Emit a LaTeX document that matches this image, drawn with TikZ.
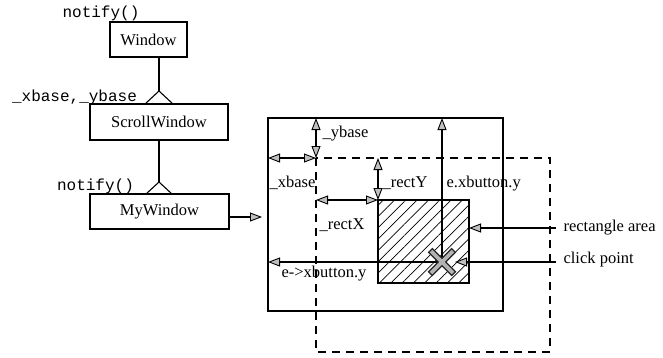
\documentclass[tikz,border=0pt]{standalone}
\usepackage{fontspec}
\setmainfont{Liberation Serif}
\setmonofont{Liberation Mono}
\usetikzlibrary{arrows.meta,patterns.meta,calc}
\begin{document}
\begin{tikzpicture}[x=1pt,y=-1pt,
  line width=1.1pt,
  >={Triangle[length=12pt,width=9pt,fill=gray!50,line width=0.9pt]},
  box/.style={draw,rectangle,inner sep=0pt,font=\fontsize{16.5}{19}\selectfont},
  lbl/.style={inner sep=0pt,font=\fontsize{16.5}{19}\selectfont},
  mono/.style={inner sep=0pt,font=\ttfamily\fontsize{16}{19}\selectfont},
  dsh/.style={dash pattern=on 8pt off 6pt}]
\useasboundingbox (0,0) rectangle (663,357);
% class boxes
\node[box,minimum width=77pt,minimum height=35pt] (win) at (148.5,39.5) {Window};
\node[box,minimum width=138pt,minimum height=36pt] (scroll) at (159,122) {ScrollWindow};
\node[box,minimum width=139pt,minimum height=35pt] (mywin) at (159.5,211.5) {MyWindow};
% inheritance triangles
\coordinate (t1) at (159,91);
\coordinate (t2) at (159,182);
\draw (win.south -| t1) -- (t1);
\draw (t1) -- ++(-14,13) -- ++(28,0) -- cycle;
\draw (scroll.south -| t2) -- (t2);
\draw (t2) -- ++(-13,12) -- ++(26,0) -- cycle;
% code labels
\node[mono] (n1) at (101,13) {notify()};
\node[mono] (n2) at (74.5,97) {\_xbase,\_ybase};
\node[mono] (n3) at (95.5,186) {notify()};
% arrow to window picture
\coordinate (mwt) at (262,217);
\draw[->] (mywin.east |- mwt) -- (mwt);
% rectangles
\coordinate (sA) at (268,118); \coordinate (sB) at (503,311);
\coordinate (dA) at (316,158); \coordinate (dB) at (550,352);
\coordinate (hA) at (378,200); \coordinate (hB) at (469,283);
\draw (sA) rectangle (sB);
\draw[dsh] (dA) rectangle (dB);
\draw[pattern={Lines[angle=45,distance=8pt,line width=0.7pt]}] (hA) rectangle (hB);
% click mark
\coordinate (cp) at (442,262);
% dimension arrows
\draw[<->] (sA -| dA) -- (dA);
\draw[<->] (sA |- dA) -- (dA);
\draw[<->] (dA -| hA) -- (hA);
\draw[<->] (dA |- hA) -- (hA);
\draw[->] (cp) -- (cp |- sA);
\draw[->] (cp) -- (cp -| sA);
\draw[line width=6.5pt,black!85] ($(cp)+(-12,-12)$) -- ($(cp)+(12,12)$) ($(cp)+(12,-12)$) -- ($(cp)+(-12,12)$);
\draw[line width=3.6pt,gray!60] ($(cp)+(-11,-11)$) -- ($(cp)+(11,11)$) ($(cp)+(11,-11)$) -- ($(cp)+(-11,11)$);
\coordinate (ra) at (556,228);
\coordinate (ck) at (556,262);
\draw[->] (ra) -- (ra -| hB);
\draw[->] (ck) -- ($(cp)+(13,0)$);
% labels
\node[lbl,anchor=west] (ly) at (322,134) {\_ybase};
\node[lbl,anchor=west] (lx) at (269,183) {\_xbase};
\node[lbl,anchor=west] (lry) at (382,183) {\_rectY};
\node[lbl,anchor=west] (lex) at (446,184) {e.xbutton.y};
\node[lbl,anchor=west] (lrx) at (319,225) {\_rectX};
\node[lbl,anchor=west] (lexb) at (281,274) {e->xbutton.y};
\node[lbl,anchor=west] (lra) at (563,228) {rectangle area};
\node[lbl,anchor=west] (lck) at (563,260) {click point};
\end{tikzpicture}
\end{document}
